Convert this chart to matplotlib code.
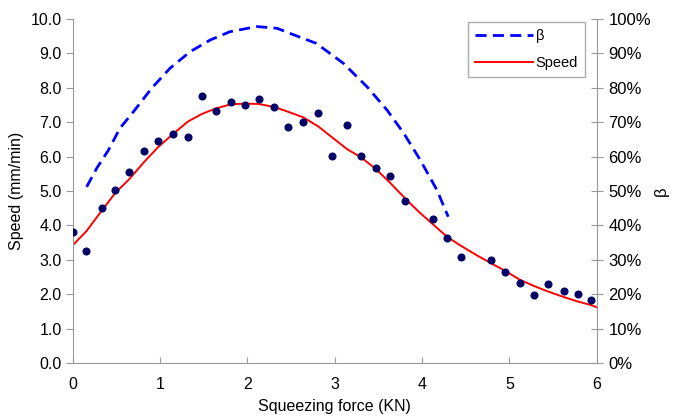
import matplotlib
matplotlib.use("Agg")
import matplotlib.pyplot as plt
import numpy as np
from matplotlib.ticker import FuncFormatter

plt.rcParams['font.family'] = ['Liberation Sans', 'DejaVu Sans']
plt.rcParams['lines.scale_dashes'] = False

# measured speed points (KN, mm/min)
force_pts = [0.0, 0.152, 0.33, 0.485, 0.65, 0.82, 0.98, 1.145, 1.32, 1.48, 1.64, 1.81,
             1.97, 2.13, 2.31, 2.47, 2.64, 2.81, 2.97, 3.14, 3.30, 3.47, 3.63, 3.80,
             4.13, 4.29, 4.45, 4.79, 4.95, 5.12, 5.28, 5.44, 5.62, 5.78, 5.94]
speed_pts = [3.81, 3.27, 4.50, 5.03, 5.56, 6.15, 6.46, 6.65, 6.56, 7.76, 7.33, 7.59,
             7.49, 7.68, 7.45, 6.87, 7.00, 7.28, 6.02, 6.92, 6.02, 5.66, 5.44, 4.71,
             4.19, 3.63, 3.09, 3.00, 2.65, 2.33, 1.97, 2.29, 2.10, 2.01, 1.83]

# fitted speed curve
force_fit = [0.0, 0.16, 0.33, 0.49, 0.65, 0.82, 0.98, 1.15, 1.32, 1.48, 1.64, 1.81,
             1.97, 2.13, 2.31, 2.47, 2.64, 2.81, 2.97, 3.14, 3.30, 3.47, 3.63, 3.80,
             3.97, 4.13, 4.29, 4.45, 4.62, 4.79, 4.95, 5.12, 5.28, 5.44, 5.62, 5.78,
             5.94, 6.0]
speed_fit = [3.42, 3.84, 4.42, 4.95, 5.35, 5.85, 6.28, 6.66, 7.02, 7.24, 7.40, 7.52,
             7.54, 7.53, 7.44, 7.30, 7.14, 6.88, 6.56, 6.22, 5.98, 5.64, 5.25, 4.80,
             4.38, 4.02, 3.66, 3.40, 3.14, 2.90, 2.68, 2.42, 2.24, 2.08, 1.92, 1.79,
             1.68, 1.62]

# beta curve (right axis)
force_beta = [0.16, 0.275, 0.41, 0.54, 0.71, 0.905, 1.115, 1.345, 1.575, 1.80, 2.11,
              2.34, 2.49, 2.79, 3.10, 3.37, 3.60, 3.79, 3.98, 4.17, 4.30]
beta = [51.2, 56.6, 61.9, 68.2, 73.5, 79.9, 85.7, 90.5, 93.9, 96.3, 97.8,
        97.3, 95.8, 92.9, 87.1, 80.3, 73.5, 66.8, 59.0, 50.3, 42.5]

grey = '#999999'

fig = plt.figure(figsize=(6.87, 4.20), dpi=100)
ax = fig.add_axes([0.1058, 0.1357, 0.7628, 0.8191])
ax2 = ax.twinx()

ax.plot(force_pts, speed_pts, 'o', color='#000066', ms=4.8, zorder=3)
l_speed, = ax.plot(force_fit, speed_fit, '-', color='#ff0000', lw=1.4, label='Speed')
l_beta, = ax2.plot(force_beta, beta, color='#0000ff', lw=2.0, label='β')
l_beta.set_dashes((8.0, 4.5))

ax.set_xlim(0, 6)
ax.set_ylim(0, 10)
ax2.set_ylim(0, 100)
ax.set_xticks(range(0, 7))
ax.set_yticks(np.arange(0, 10.1, 1))
ax.yaxis.set_major_formatter(FuncFormatter(lambda v, p: '%.1f' % v))
ax2.set_yticks(range(0, 101, 10))
ax2.yaxis.set_major_formatter(FuncFormatter(lambda v, p: '%d%%' % v))

for a in (ax, ax2):
  for s in a.spines.values():
    s.set_color(grey)
  a.spines['top'].set_visible(False)
ax.spines['right'].set_visible(False)
ax2.spines['left'].set_visible(False)
ax2.spines['bottom'].set_visible(False)

ax.tick_params(axis='y', direction='out', length=5, color=grey, labelsize=11.5, pad=3)
ax.tick_params(axis='x', direction='in', length=4, color=grey, labelsize=11.5, pad=10)
ax2.tick_params(axis='y', direction='inout', length=9, color=grey, labelsize=12, pad=4)

ax.set_xlabel('Squeezing force (KN)', fontsize=11.5, labelpad=5)
ax.set_ylabel('Speed (mm/min)', fontsize=11.5, labelpad=5)
ax2.set_ylabel('β', fontsize=12, labelpad=2)

leg = ax.legend([l_beta, l_speed], ['β', 'Speed'], loc='upper right',
                bbox_to_anchor=(0.978, 0.991), borderaxespad=0, fontsize=10.5,
                handlelength=4.0, handletextpad=0.15, fancybox=False, frameon=True,
                borderpad=0.5, labelspacing=0.85)
leg.get_frame().set_edgecolor(grey)
leg.get_frame().set_linewidth(1.0)

fig.savefig('out.png', dpi=100)
